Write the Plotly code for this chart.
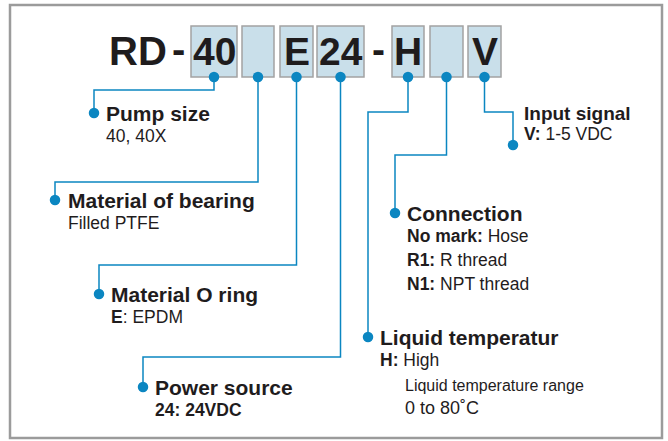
import plotly.graph_objects as go

# ---------------- data ----------------
prefix_text = ["RD", "-"]
code_chars = ["40", "", "E", "24", "H", "", "V"]
separator_after = [None, None, None, "-", None, None, None]

headings = ["Pump size", "Material of bearing", "Material O ring", "Power source",
            "Liquid temperatur", "Connection", "Input signal"]
details = [
    ["40, 40X"],
    ["Filled PTFE"],
    ["<b>E</b>: EPDM"],
    ["<b>24: 24VDC</b>"],
    ["<b>H:</b> High"],
    ["<b>No mark:</b> Hose", "<b>R1:</b> R thread", "<b>N1:</b> NPT thread"],
    ["<b>V:</b> 1-5 VDC"],
]
extra_notes = ["Liquid temperature range", "0 to 80˚C"]

# ---------------- layout geometry (pixels) ----------------
W, H = 668, 441
box_x0 = [191, 242, 280, 317, 392, 430, 468]
box_x1 = [237, 274, 313, 364, 424, 463, 501]
box_y0, box_y1 = 26, 77
# connector: drop y, horizontal target x, final dot y
drop_y = [90, 182, 265, 357, 112, 155, 112]
turn_x = [94, 55, 99, 143, 368, 395, 513]
dot_y = [113, 200, 294, 387, 337, 213, 145]
text_x = [104, 66, 109, 153, 378, 405, 522]
heading_size = [21, 21, 21, 21, 21, 21, 19]

BLUE = "#0b86c1"
TXT = "#1f1c1d"
FONT = "Liberation Sans, Arial, Helvetica, sans-serif"

fig = go.Figure()
shapes = []
annotations = []

# outer frame
shapes.append(dict(type="rect", x0=10, y0=5, x1=662, y1=438,
                   line=dict(color="#9b9b9b", width=2.5), fillcolor="white", layer="below"))

# code boxes
for x0, x1 in zip(box_x0, box_x1):
    shapes.append(dict(type="rect", x0=x0, x1=x1, y0=box_y0, y1=box_y1,
                       line=dict(color="#a3a3a3", width=1.5), fillcolor="#c9dfea", layer="below"))

# model code text
annotations.append(dict(x=138, y=51, text="<b>RD</b>", showarrow=False,
                        font=dict(size=40, color=TXT, family=FONT), xanchor="center", yanchor="middle"))
annotations.append(dict(x=178, y=49, text="<b>-</b>", showarrow=False,
                        font=dict(size=40, color=TXT, family=FONT), xanchor="center", yanchor="middle"))
for i, ch in enumerate(code_chars):
    cx = (box_x0[i] + box_x1[i]) / 2
    if ch:
        annotations.append(dict(x=cx, y=51, text="<b>%s</b>" % ch, showarrow=False,
                                font=dict(size=39, color=TXT, family=FONT),
                                xanchor="center", yanchor="middle"))
    if separator_after[i]:
        sx = (box_x1[i] + box_x0[i + 1]) / 2
        annotations.append(dict(x=sx, y=49, text="<b>%s</b>" % separator_after[i], showarrow=False,
                                font=dict(size=39, color=TXT, family=FONT),
                                xanchor="center", yanchor="middle"))

# connectors
for i in range(len(code_chars)):
    cx = (box_x0[i] + box_x1[i]) / 2
    xs = [cx, cx, turn_x[i], turn_x[i]]
    ys = [box_y1, drop_y[i], drop_y[i], dot_y[i]]
    fig.add_trace(go.Scatter(x=xs, y=ys, mode="lines", line=dict(color=BLUE, width=1.5),
                             hoverinfo="skip", showlegend=False))
    fig.add_trace(go.Scatter(x=[cx, turn_x[i]], y=[box_y1, dot_y[i]], mode="markers",
                             marker=dict(color=BLUE, size=10.5), hoverinfo="skip", showlegend=False))

# labels
for i, head in enumerate(headings):
    if i == 6:
        hy = 113
        sub_y0 = 134
    else:
        hy = dot_y[i]
        sub_y0 = dot_y[i] + 23
    annotations.append(dict(x=text_x[i], y=hy, text="<b>%s</b>" % head, showarrow=False,
                            font=dict(size=heading_size[i], color=TXT, family=FONT),
                            xanchor="left", yanchor="middle"))
    for j, line in enumerate(details[i]):
        annotations.append(dict(x=text_x[i], y=sub_y0 + 24 * j, text=line, showarrow=False,
                                font=dict(size=17.5, color=TXT, family=FONT),
                                xanchor="left", yanchor="middle"))

annotations.append(dict(x=403, y=385, text=extra_notes[0], showarrow=False,
                        font=dict(size=16, color=TXT, family=FONT), xanchor="left", yanchor="middle"))
annotations.append(dict(x=403, y=408, text=extra_notes[1], showarrow=False,
                        font=dict(size=18, color=TXT, family=FONT), xanchor="left", yanchor="middle"))

fig.update_layout(
    width=W, height=H, margin=dict(l=0, r=0, t=0, b=0),
    paper_bgcolor="white", plot_bgcolor="white",
    xaxis=dict(range=[0, W], visible=False, fixedrange=True),
    yaxis=dict(range=[H, 0], visible=False, fixedrange=True),
    shapes=shapes, annotations=annotations, showlegend=False,
)

fig.write_html("out.html", config={"displayModeBar": False},
               post_script="document.body.style.margin='0';document.body.style.overflow='hidden';")
